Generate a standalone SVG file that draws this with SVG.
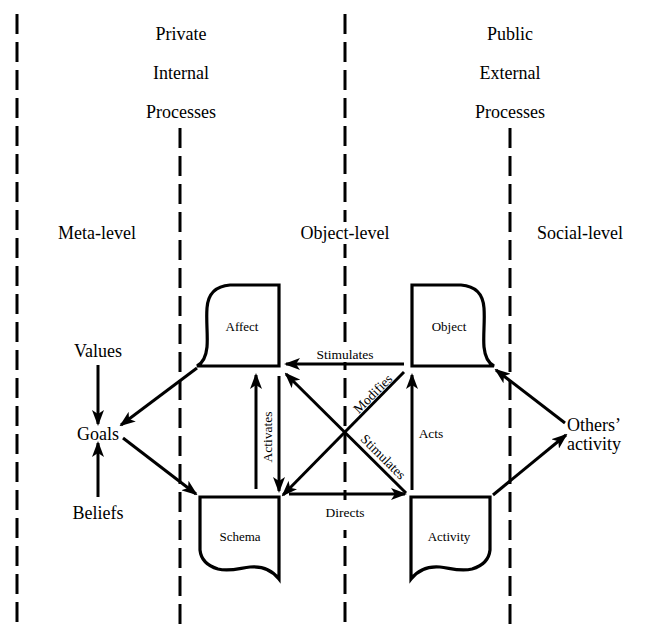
<svg xmlns="http://www.w3.org/2000/svg" width="663" height="624" viewBox="0 0 663 624">
<style>
text{font-family:"Liberation Serif","Times New Roman",serif;fill:#000}
.h{font-size:18px;text-anchor:middle}
.n{font-size:13px;text-anchor:middle}
.l{font-size:13.5px;text-anchor:middle}
.dash{stroke:#000;stroke-width:3;stroke-dasharray:20 8;fill:none}
.node{fill:#fff;stroke:#000;stroke-width:3.2;stroke-linejoin:miter}
.arr{stroke:#000;stroke-width:3;fill:none;marker-end:url(#ah)}
</style>
<defs>
<marker id="ah" markerWidth="16" markerHeight="12" refX="14" refY="6" orient="auto" markerUnits="userSpaceOnUse">
<path d="M0,0 L16,6 L0,12 L4,6 Z" fill="#000"/>
</marker>
</defs>
<rect width="663" height="624" fill="#fff"/>
<g id="lanes">
<line class="dash" x1="17" y1="14" x2="17" y2="624"/>
<line class="dash" x1="345" y1="14" x2="345" y2="624"/>
<line class="dash" x1="180" y1="128" x2="180" y2="624"/>
<line class="dash" x1="510" y1="128" x2="510" y2="624"/>
</g>
<g id="headings">
<text class="h" x="181" y="40">Private</text>
<text class="h" x="181" y="79">Internal</text>
<text class="h" x="181" y="118">Processes</text>
<text class="h" x="510" y="40">Public</text>
<text class="h" x="510" y="79">External</text>
<text class="h" x="510" y="118">Processes</text>
<text class="h" x="97" y="239">Meta-level</text>
<rect x="298" y="222" width="94" height="22" fill="#fff"/>
<text class="h" x="345" y="239">Object-level</text>
<text class="h" x="580" y="239">Social-level</text>
</g>
<g id="affect">
<path class="node" d="M230,285 L279,285 L279,366 L197,366 C203,363 206,357 207,347 C208,335 206,322 207,308 C208,294 216,286 230,285 Z"/>
<text class="n" x="242" y="331">Affect</text>
</g>
<g id="object">
<path class="node" d="M461,285 L412,285 L412,366 L494,366 C488,363 485,357 484,347 C483,335 485,322 484,308 C483,294 475,286 461,285 Z"/>
<text class="n" x="449" y="331">Object</text>
</g>
<g id="schema">
<path class="node" d="M200,497 L279,497 L279,579 C272,570 262,566 250,567 C240,568 230,572 218,569 C208,566 201,560 200,550 Z"/>
<text class="n" x="240" y="541">Schema</text>
</g>
<g id="activity">
<path class="node" d="M490,497 L411,497 L411,579 C418,570 428,566 440,567 C450,568 460,572 472,569 C482,566 489,560 490,550 Z"/>
<text class="n" x="449" y="541">Activity</text>
</g>
<g id="values"><text class="h" x="98" y="357">Values</text></g>
<g id="goals"><text class="h" x="98" y="440">Goals</text></g>
<g id="beliefs"><text class="h" x="98" y="519">Beliefs</text></g>
<g id="others"><text style="font-size:18px" x="567" y="431">Others’</text><text style="font-size:18px" x="567" y="450">activity</text></g>
<g id="connectors">
<rect x="316" y="347" width="58" height="15" fill="#fff"/>
<line class="arr" x1="404" y1="364" x2="286" y2="364"/>
<text class="l" x="345" y="359">Stimulates</text>
<line class="arr" x1="256" y1="489" x2="256" y2="375"/>
<line class="arr" x1="279" y1="376" x2="279" y2="491"/>
<text class="l" transform="translate(272,437) rotate(-90)">Activates</text>
<line class="arr" x1="404" y1="372" x2="283" y2="495"/>
<text class="l" transform="translate(376,397) rotate(-45)">Modifies</text>
<line class="arr" x1="406" y1="493" x2="286" y2="374"/>
<text class="l" transform="translate(380,460) rotate(45)">Stimulates</text>
<line class="arr" x1="412" y1="490" x2="412" y2="375"/>
<text class="l" x="431" y="438">Acts</text>
<rect x="322" y="500" width="46" height="30" fill="#fff"/>
<line class="arr" x1="289" y1="494" x2="405" y2="494"/>
<text class="l" x="345" y="517">Directs</text>
<line class="arr" x1="98" y1="365" x2="98" y2="424"/>
<line class="arr" x1="98" y1="497" x2="98" y2="443"/>
<line class="arr" x1="197" y1="368" x2="121" y2="425"/>
<line class="arr" x1="123" y1="438" x2="196" y2="494"/>
<line class="arr" x1="565" y1="423" x2="496" y2="370"/>
<line class="arr" x1="493" y1="495" x2="566" y2="435"/>
</g>
</svg>
